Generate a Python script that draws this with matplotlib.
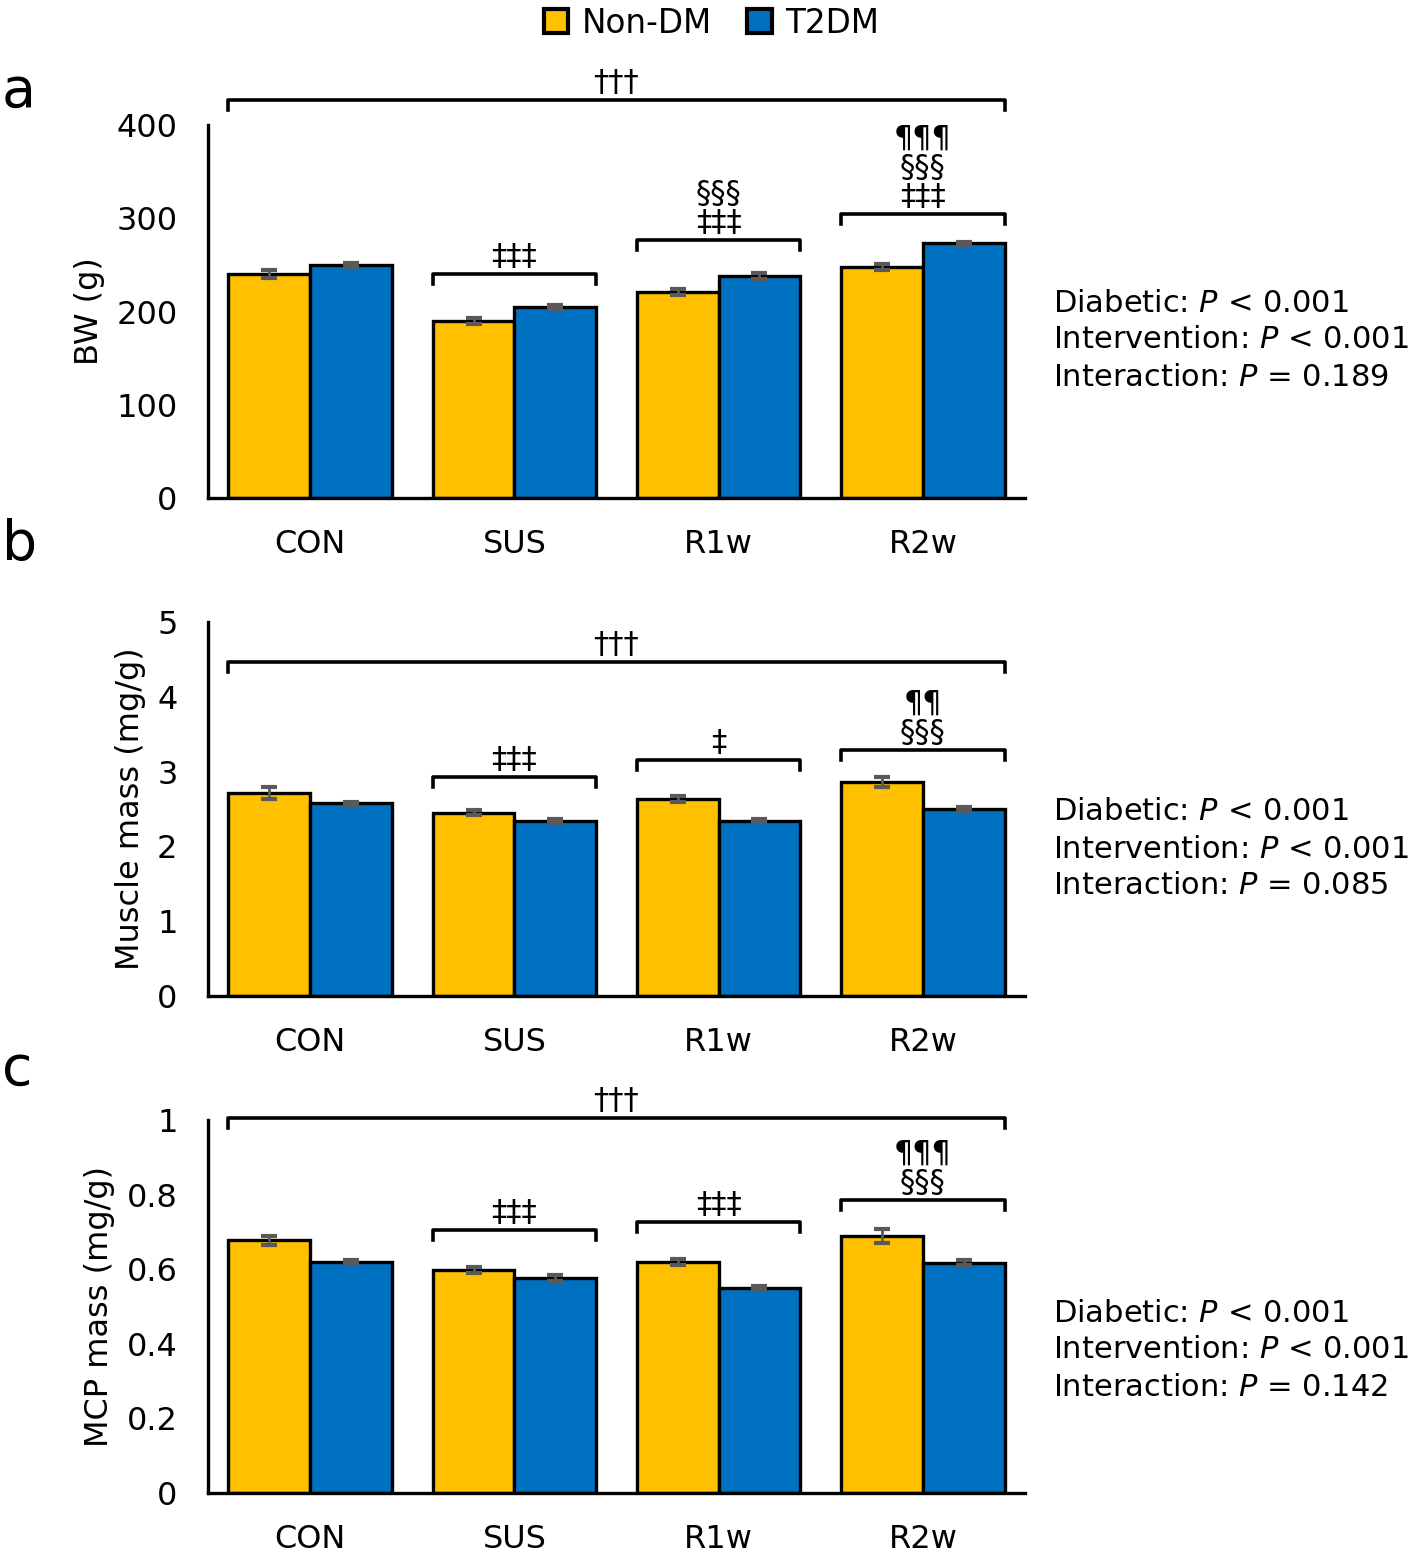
import matplotlib
matplotlib.use('Agg')
import numpy as np
import matplotlib.pyplot as plt
from matplotlib.patches import Patch

groups = ['CON', 'SUS', 'R1w', 'R2w']
series = ['Non-DM', 'T2DM']

bw_nondm = [240, 190, 221, 248]
bw_nondm_err = [4, 3, 3, 3]
bw_t2dm = [250, 205, 238, 273]
bw_t2dm_err = [2, 2, 3, 2]

muscle_nondm = [2.71, 2.45, 2.64, 2.86]
muscle_nondm_err = [0.08, 0.03, 0.04, 0.07]
muscle_t2dm = [2.58, 2.34, 2.34, 2.50]
muscle_t2dm_err = [0.02, 0.03, 0.02, 0.03]

mcp_nondm = [0.678, 0.598, 0.619, 0.689]
mcp_nondm_err = [0.012, 0.008, 0.008, 0.018]
mcp_t2dm = [0.619, 0.576, 0.550, 0.617]
mcp_t2dm_err = [0.005, 0.008, 0.004, 0.007]

ylabels = ['BW (g)', 'Muscle mass (mg/g)', 'MCP mass (mg/g)']
yticks = [[0, 100, 200, 300, 400],
          [0, 1, 2, 3, 4, 5],
          [0, 0.2, 0.4, 0.6, 0.8, 1]]
yticklabels = [['0', '100', '200', '300', '400'],
               ['0', '1', '2', '3', '4', '5'],
               ['0', '0.2', '0.4', '0.6', '0.8', '1']]
panel_letters = ['a', 'b', 'c']

# overall bracket (level, label) and per-group brackets (group, level, label)
top_brackets = [(427, '†††'), (4.465, '†††'), (1.005, '†††')]
group_brackets = [
    [(1, 240, '‡‡‡'), (2, 277, '§§§\n‡‡‡'), (3, 305, '¶¶¶\n§§§\n‡‡‡')],
    [(1, 2.93, '‡‡‡'), (2, 3.155, '‡'), (3, 3.29, '¶¶\n§§§')],
    [(1, 0.705, '‡‡‡'), (2, 0.727, '‡‡‡'), (3, 0.786, '¶¶¶\n§§§')],
]
stats = [
    ['Diabetic: $\\mathit{P}$ < 0.001', 'Intervention: $\\mathit{P}$ < 0.001', 'Interaction: $\\mathit{P}$ = 0.189'],
    ['Diabetic: $\\mathit{P}$ < 0.001', 'Intervention: $\\mathit{P}$ < 0.001', 'Interaction: $\\mathit{P}$ = 0.085'],
    ['Diabetic: $\\mathit{P}$ < 0.001', 'Intervention: $\\mathit{P}$ < 0.001', 'Interaction: $\\mathit{P}$ = 0.142'],
]

data = [(bw_nondm, bw_nondm_err, bw_t2dm, bw_t2dm_err),
        (muscle_nondm, muscle_nondm_err, muscle_t2dm, muscle_t2dm_err),
        (mcp_nondm, mcp_nondm_err, mcp_t2dm, mcp_t2dm_err)]

yellow = '#FFC000'
blue = '#0070C0'
errc = '#595959'

plt.rcParams['font.family'] = ['DejaVu Sans']
plt.rcParams['mathtext.fontset'] = 'dejavusans'

fig = plt.figure(figsize=(14.18, 15.53), dpi=100)
W, H = 1418.0, 1553.0
# axes boxes in pixels: (left, top, right, bottom)
boxes = [(208, 125, 1025, 498), (208, 622, 1025, 996), (208, 1120, 1025, 1493)]
letter_y = [92, 545, 1070]
stats_mid = [340, 849, 1350]

x = np.arange(len(groups))
w = 0.4

for i, ax_box in enumerate(boxes):
    l, t, r, b = ax_box
    ax = fig.add_axes([l / W, 1 - b / H, (r - l) / W, (b - t) / H])
    nd, nd_err, t2, t2_err = data[i]
    ax.bar(x - w / 2, nd, w, color=yellow, edgecolor='black', linewidth=2.4, zorder=2)
    ax.bar(x + w / 2, t2, w, color=blue, edgecolor='black', linewidth=2.4, zorder=2)
    ax.errorbar(x - w / 2, nd, yerr=nd_err, fmt='none', ecolor=errc, elinewidth=2,
                capsize=5.5, capthick=3, zorder=3)
    ax.errorbar(x + w / 2, t2, yerr=t2_err, fmt='none', ecolor=errc, elinewidth=2,
                capsize=5.5, capthick=3, zorder=3)

    ymax = yticks[i][-1]
    ax.set_ylim(0, ymax)
    ax.set_xlim(-0.5, 3.5)
    ax.set_yticks(yticks[i])
    ax.set_yticklabels(yticklabels[i])
    ax.set_xticks(x)
    ax.set_xticklabels(groups)
    ax.tick_params(axis='both', length=0, labelsize=23)
    ax.tick_params(axis='y', pad=22)
    ax.tick_params(axis='x', pad=22)
    ax.set_ylabel(ylabels[i], fontsize=23, labelpad=8)
    for s in ['top', 'right']:
        ax.spines[s].set_visible(False)
    for s in ['left', 'bottom']:
        ax.spines[s].set_linewidth(2.4)

    tick = 0.027 * ymax
    lvl, lab = top_brackets[i]
    ax.plot([-0.4, -0.4, 3.4, 3.4], [lvl - tick, lvl, lvl, lvl - tick], color='black',
            lw=2.6, clip_on=False)
    ax.annotate(lab, xy=(1.5, lvl), xytext=(0, 2), textcoords='offset points',
                ha='center', va='bottom', fontsize=22, annotation_clip=False)
    for g, lvl, lab in group_brackets[i]:
        ax.plot([g - 0.4, g - 0.4, g + 0.4, g + 0.4], [lvl - tick, lvl, lvl, lvl - tick],
                color='black', lw=2.6, clip_on=False)
        ax.annotate(lab, xy=(g, lvl), xytext=(0, 2), textcoords='offset points',
                    ha='center', va='bottom', fontsize=22, linespacing=1.0,
                    annotation_clip=False)

    fig.text(2 / W, 1 - letter_y[i] / H, panel_letters[i], fontsize=40,
             ha='left', va='center')
    for k, line in enumerate(stats[i]):
        fig.text(1053 / W, 1 - (stats_mid[i] + (k - 1) * 37) / H, line,
                 fontsize=22, ha='left', va='center')

handles = [Patch(facecolor=yellow, edgecolor='black', linewidth=3),
           Patch(facecolor=blue, edgecolor='black', linewidth=3)]
fig.legend(handles, series, loc='upper center', bbox_to_anchor=(0.5016, 1.0),
           ncol=2, frameon=False, fontsize=23.5, handlelength=0.75, handleheight=0.75,
           handletextpad=0.4, columnspacing=1.1, borderaxespad=0.1, borderpad=0.1)

fig.savefig('out.png', dpi=100)
